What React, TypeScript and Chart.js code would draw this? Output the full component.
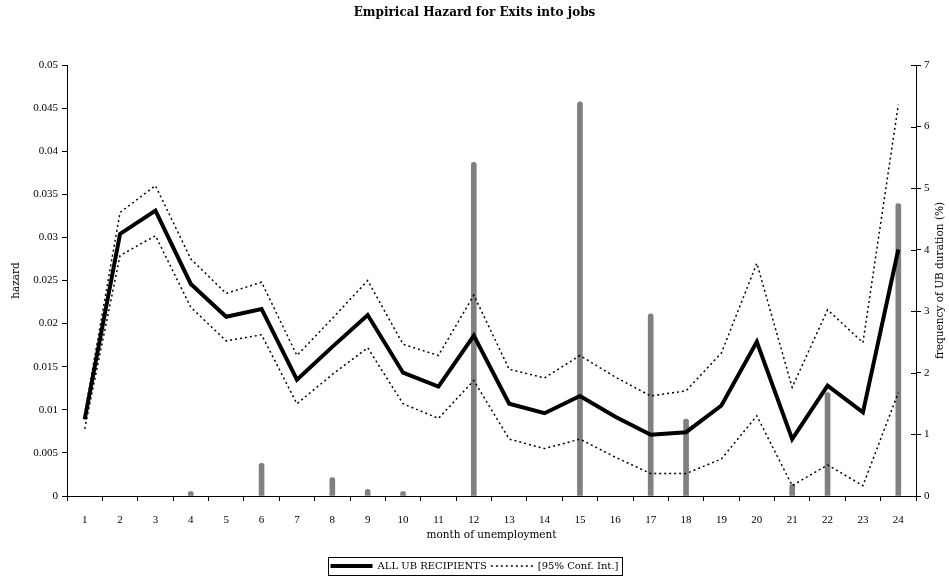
import React, { useEffect, useRef } from 'react';
import { Chart, registerables } from 'chart.js';

Chart.register(...registerables);

const chartTitle = 'Empirical Hazard for Exits into jobs';
const xAxisTitle = 'month of unemployment';
const leftAxisTitle = 'hazard';
const rightAxisTitle = 'frequency of UB duration (%)';
const mainLabel = 'ALL UB RECIPIENTS';
const ciLabel = '[95% Conf. Int.]';

const months = ['1', '2', '3', '4', '5', '6', '7', '8', '9', '10', '11', '12', '13', '14', '15', '16', '17', '18', '19', '20', '21', '22', '23', '24'];

const hazard = [0.0089, 0.0304, 0.0331, 0.0246, 0.0208, 0.0217, 0.0135, 0.0173, 0.0210, 0.0143, 0.0127, 0.0186, 0.0107, 0.0096, 0.0116, 0.0092, 0.0071, 0.0074, 0.0105, 0.0179, 0.0066, 0.0128, 0.0097, 0.0286];
const upperCI = [0.0095, 0.0329, 0.0360, 0.0275, 0.0235, 0.0248, 0.0163, 0.0206, 0.0250, 0.0176, 0.0163, 0.0233, 0.0147, 0.0137, 0.0163, 0.0138, 0.0116, 0.0122, 0.0166, 0.0270, 0.0126, 0.0216, 0.0178, 0.0454];
const lowerCI = [0.0078, 0.0279, 0.0302, 0.0219, 0.0180, 0.0187, 0.0107, 0.0141, 0.0172, 0.0107, 0.0090, 0.0134, 0.0066, 0.0055, 0.0066, 0.0045, 0.0026, 0.0026, 0.0043, 0.0093, 0.0012, 0.0036, 0.0012, 0.0120];
const frequency = [0, 0, 0, 0.07, 0, 0.53, 0, 0.30, 0.11, 0.07, 0, 5.42, 0, 0, 6.40, 0, 2.96, 1.25, 0, 0, 0.19, 1.68, 0, 4.75];

const TEXT_FONT = 'DejaVu Serif';
const NUM_FONT = 'Liberation Serif';
const CI_DASH = [2, 3];

const extrasPlugin = {
  id: 'extras',
  afterDraw(chart: any) {
    const ctx = chart.ctx;
    // border around legend
    const lg = chart.legend;
    if (lg && lg.legendHitBoxes && lg.legendHitBoxes.length) {
      const boxes = lg.legendHitBoxes;
      const left = Math.min(...boxes.map((b: any) => b.left)) - 3;
      const right = Math.max(...boxes.map((b: any) => b.left + b.width)) + 3;
      const top = Math.min(...boxes.map((b: any) => b.top)) - 4;
      const bottom = Math.max(...boxes.map((b: any) => b.top + b.height)) + 4;
      ctx.save();
      ctx.strokeStyle = '#000';
      ctx.lineWidth = 1;
      ctx.strokeRect(Math.round(left) + 0.5, Math.round(top) + 0.5, Math.round(right - left), Math.round(bottom - top));
      ctx.restore();
    }
    // right axis: inner tick marks and bottom-to-top title
    const s = chart.scales.y2;
    if (s) {
      ctx.save();
      ctx.strokeStyle = '#000';
      ctx.lineWidth = 1;
      s.ticks.forEach((t: any) => {
        const y = Math.round(s.getPixelForValue(t.value)) + 0.5;
        ctx.beginPath();
        ctx.moveTo(s.left - 5, y);
        ctx.lineTo(s.left, y);
        ctx.stroke();
      });
      ctx.translate(s.right - 9, (s.top + s.bottom) / 2);
      ctx.rotate(-Math.PI / 2);
      ctx.font = `10.5px "${TEXT_FONT}"`;
      ctx.fillStyle = '#000';
      ctx.textAlign = 'center';
      ctx.textBaseline = 'middle';
      ctx.fillText(rightAxisTitle, 0, 0);
      ctx.restore();
    }
  },
};

export default function App() {
  const ref = useRef<HTMLCanvasElement>(null);

  useEffect(() => {
    if (!ref.current) return;
    const chart = new Chart(ref.current, {
      type: 'bar',
      data: {
        labels: months,
        datasets: [
          {
            type: 'line',
            label: mainLabel,
            data: hazard,
            borderColor: '#000',
            backgroundColor: '#000',
            borderWidth: 4,
            pointRadius: 0,
            tension: 0,
            fill: false,
            yAxisID: 'y',
            order: 1,
          },
          {
            type: 'line',
            label: ciLabel,
            data: upperCI,
            borderColor: '#000',
            backgroundColor: '#000',
            borderWidth: 1.5,
            borderDash: CI_DASH,
            pointRadius: 0,
            tension: 0,
            fill: false,
            yAxisID: 'y',
            order: 1,
          },
          {
            type: 'line',
            label: 'lower',
            data: lowerCI,
            borderColor: '#000',
            backgroundColor: '#000',
            borderWidth: 1.5,
            borderDash: CI_DASH,
            pointRadius: 0,
            tension: 0,
            fill: false,
            yAxisID: 'y',
            order: 1,
          },
          {
            type: 'bar',
            label: 'frequency',
            data: frequency.map((v) => (v === 0 ? null : v)),
            backgroundColor: '#808080',
            barThickness: 5,
            borderRadius: { topLeft: 2.5, topRight: 2.5, bottomLeft: 0, bottomRight: 0 },
            borderSkipped: false,
            yAxisID: 'y2',
            order: 2,
          } as any,
        ],
      },
      options: {
        responsive: false,
        devicePixelRatio: 1,
        animation: false,
        layout: { padding: 0 },
        plugins: {
          title: {
            display: true,
            text: chartTitle,
            color: '#000',
            font: { family: TEXT_FONT, size: 12, weight: 'bold' },
            padding: { top: 6, bottom: 44.6 },
          },
          legend: {
            display: true,
            position: 'bottom',
            labels: {
              color: '#000',
              font: { family: TEXT_FONT, size: 10 },
              usePointStyle: true,
              pointStyle: 'line',
              pointStyleWidth: 42,
              padding: 4,
              generateLabels: (c: any) => {
                const items = Chart.defaults.plugins.legend.labels.generateLabels(c);
                return items
                  .filter((it: any) => it.datasetIndex === 0 || it.datasetIndex === 1)
                  .map((it: any) => {
                    const ds = c.data.datasets[it.datasetIndex];
                    return {
                      ...it,
                      pointStyle: 'line',
                      lineWidth: ds.borderWidth,
                      lineDash: ds.borderDash || [],
                      strokeStyle: '#000',
                      fontColor: '#000',
                    };
                  });
              },
            },
          },
          tooltip: { enabled: false },
        },
        scales: {
          x: {
            type: 'category',
            offset: true,
            grid: { offset: true, drawOnChartArea: false, tickLength: 5, color: '#000' },
            border: { display: true, color: '#000', width: 1 },
            ticks: { color: '#000', font: { family: NUM_FONT, size: 11 }, padding: 13, maxRotation: 0, autoSkip: false },
            title: {
              display: true,
              text: xAxisTitle,
              color: '#000',
              font: { family: TEXT_FONT, size: 10.5 },
              padding: { top: 0, bottom: 15 },
            },
            afterFit: (s: any) => {
              s.height = 61;
            },
          },
          y: {
            type: 'linear',
            position: 'left',
            min: 0,
            max: 0.05,
            grid: { drawOnChartArea: false, tickLength: 5, color: '#000' },
            border: { display: true, color: '#000', width: 1 },
            ticks: {
              stepSize: 0.005,
              color: '#000',
              font: { family: NUM_FONT, size: 11 },
              padding: 4,
              callback: (v: any) => String(+(+v).toFixed(3)),
            },
            title: {
              display: true,
              text: leftAxisTitle,
              color: '#000',
              font: { family: TEXT_FONT, size: 10.5 },
              padding: { top: 10, bottom: 0 },
            },
            afterFit: (s: any) => {
              s.width = 67;
            },
          },
          y2: {
            type: 'linear',
            position: 'right',
            min: 0,
            max: 7,
            grid: { drawOnChartArea: false, tickLength: 5, color: '#000' },
            border: { display: true, color: '#000', width: 1 },
            ticks: { stepSize: 1, color: '#000', font: { family: NUM_FONT, size: 11 }, padding: 3 },
            title: { display: false },
            afterFit: (s: any) => {
              s.width = 33;
            },
          },
        },
      } as any,
      plugins: [extrasPlugin],
    });
    return () => chart.destroy();
  }, []);

  return (
    <div style={{ position: 'fixed', left: 0, top: 0, width: 949, height: 581, background: '#fff' }}>
      <canvas ref={ref} width={949} height={581} style={{ display: 'block', width: 949, height: 581 }} />
    </div>
  );
}
